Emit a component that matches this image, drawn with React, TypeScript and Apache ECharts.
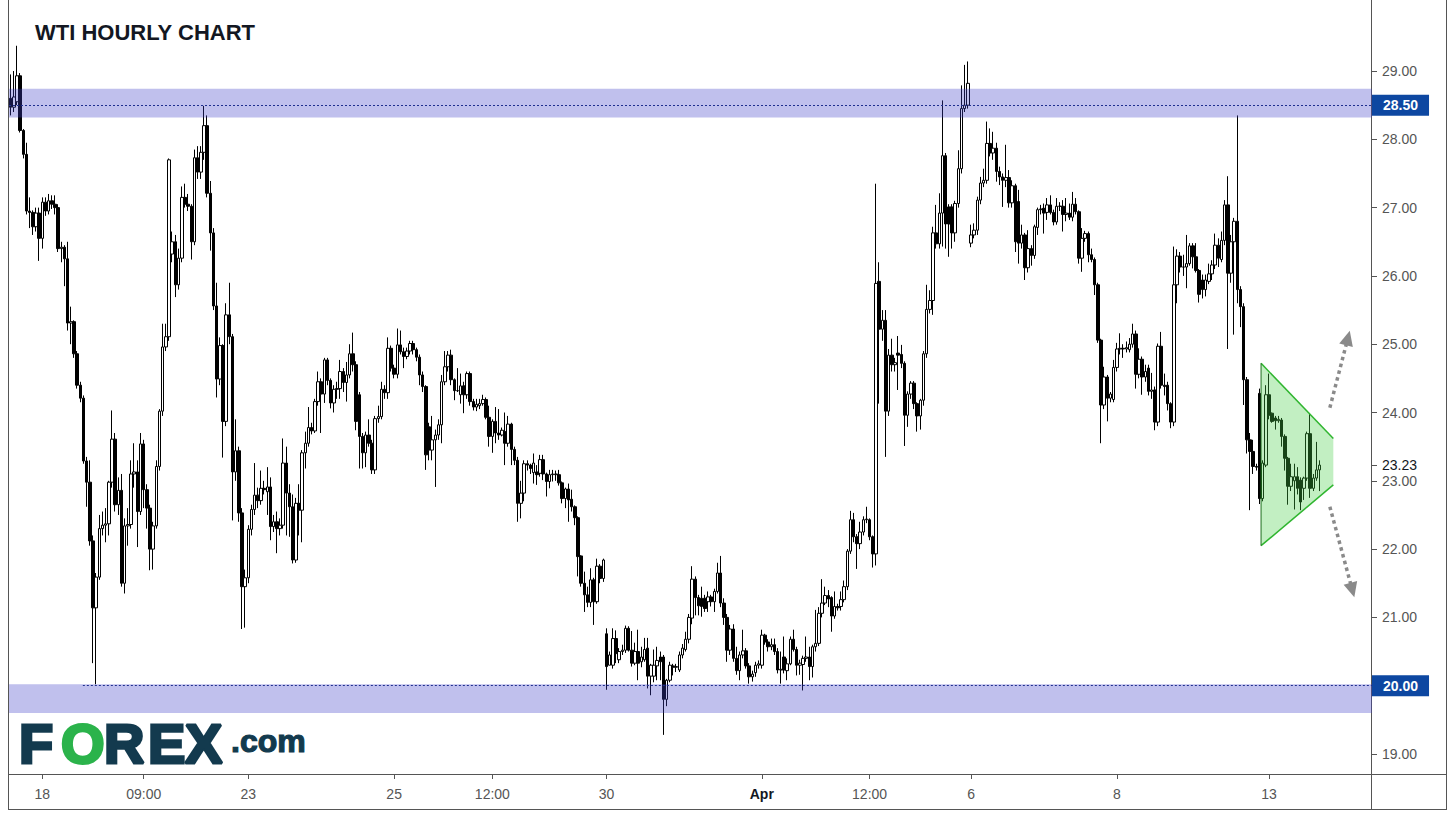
import React, { useEffect, useRef } from "react";
import * as echarts from "echarts";

// Hourly WTI candles, [open, close, low, high].
// Mar 17 evening - Mar 19
const block01 = [
  [28.60,28.47,28.35,28.95],[28.47,28.62,28.40,29.00],[28.55,28.93,28.50,29.37],[28.93,28.13,28.10,28.97],
  [28.13,27.78,27.72,28.15],[27.78,26.95,26.90,27.95],[26.95,26.93,26.70,27.15],[26.93,26.72,26.60,26.96],
  [26.72,26.92,26.65,27.00],[26.92,26.55,26.22,27.00],[26.55,27.08,26.40,27.15],[27.08,26.95,26.88,27.15],
  [26.95,27.10,26.90,27.20],[27.10,27.05,26.98,27.18],[27.05,27.00,26.90,27.18],[27.00,26.40,26.35,27.05],
  [26.40,26.42,26.20,26.50],[26.42,26.25,25.85,26.45],[26.25,25.31,25.20,26.50],[25.31,25.33,25.00,25.55],
  [25.33,24.86,24.80,25.35],[24.86,24.40,24.35,24.90],[24.40,24.21,24.15,24.45],[24.21,23.29,23.25,24.25],
  [23.29,22.98,22.62,23.35],[22.98,22.12,22.05,23.30],[22.12,21.14,20.33,22.20],[21.14,21.59,20.02,21.65],
  [21.59,22.30,21.55,22.50],[22.30,22.35,22.20,22.55],[22.35,22.37,22.10,22.60],[22.37,22.98,22.20,23.00],
  [22.98,23.61,22.90,24.03],[23.61,22.65,22.55,23.70],[22.65,22.86,22.50,23.05],[22.86,21.50,21.45,23.10],
  [21.50,22.34,21.35,22.45],[22.34,22.36,22.05,22.60],[22.36,23.10,22.30,23.30],[23.10,23.13,22.90,23.55],
  [23.13,22.55,22.03,23.30],
];
// Mar 19 - Mar 22
const block02 = [
  [22.55,23.54,22.50,23.70],[23.54,22.87,22.60,23.60],[22.87,22.60,22.30,22.95],[22.60,22.00,21.69,22.65],
  [22.00,22.34,21.70,22.40],[22.34,23.21,22.30,23.30],[23.21,24.02,23.15,24.05],[24.02,24.96,23.95,25.30],
  [24.96,25.11,24.90,25.30],[25.11,27.70,25.05,27.72],[26.32,26.50,26.20,26.65],[26.50,25.87,25.69,26.60],
  [25.87,26.26,25.80,26.40],[26.26,27.15,26.20,27.31],[27.15,27.05,27.00,27.35],[27.05,27.02,26.95,27.20],
  [27.02,26.50,26.24,27.05],[26.50,27.73,26.45,27.85],[27.73,27.52,27.42,27.90],[27.52,27.81,27.42,27.90],
  [27.81,28.20,27.70,28.49],[28.20,27.21,27.15,28.35],[27.21,26.63,26.37,27.39],[26.63,25.56,25.50,26.70],
  [25.56,24.49,24.22,25.90],[24.49,24.98,24.40,25.10],[24.98,23.87,23.34,25.00],[23.87,25.43,23.80,25.60],
  [25.43,25.11,25.00,25.90],[25.11,23.13,22.42,25.15],[23.13,23.44,23.00,23.90],[23.44,22.53,22.40,23.50],
  [22.53,21.45,20.83,22.60],[21.45,21.58,20.85,21.70],[21.58,22.29,21.50,22.35],[22.29,22.58,22.20,22.65],
  [22.58,22.79,22.50,23.26],[22.79,22.71,22.60,22.90],[22.71,22.89,22.65,23.15],[22.89,22.87,22.80,23.00],
  [22.84,22.91,22.50,23.20],
];
// Mar 23 - Mar 25
const block03 = [
  [22.91,22.33,22.13,23.05],[22.33,22.40,22.25,22.50],[22.40,22.30,21.94,22.55],[22.30,22.35,22.20,22.45],
  [22.35,23.26,22.30,23.62],[23.26,22.82,22.20,23.50],[22.82,22.62,22.18,22.95],[22.62,21.84,21.79,22.80],
  [21.84,22.67,21.80,22.75],[22.67,22.57,22.20,22.95],[22.57,23.41,22.10,23.45],[23.41,23.55,23.18,23.72],
  [23.55,23.78,23.50,24.08],[23.78,23.73,23.68,23.85],[23.73,24.16,23.70,24.20],[24.16,24.45,24.10,24.60],
  [24.45,24.27,23.70,24.50],[24.27,24.77,24.14,24.80],[24.77,24.47,24.40,24.80],[24.47,24.14,24.06,24.50],
  [24.14,24.34,24.00,24.40],[24.34,24.35,24.20,24.45],[24.35,24.60,24.20,24.77],[24.60,24.44,24.30,24.65],
  [24.44,24.55,24.16,24.74],[24.55,24.86,24.50,25.00],[24.86,24.70,24.60,25.17],[24.70,23.87,23.74,24.75],
  [24.26,23.65,23.18,24.30],[23.65,23.41,23.18,23.70],[23.41,23.67,23.20,23.72],[23.67,23.55,23.50,23.90],
  [23.55,23.16,23.10,23.60],[23.16,23.91,23.10,23.95],[23.91,23.94,23.85,24.10],[23.94,24.34,23.90,24.45],
  [24.34,24.29,24.20,24.40],[24.29,24.94,24.20,25.10],[24.94,24.65,24.60,24.98],[24.65,24.56,24.50,24.70],
  [24.56,24.99,24.50,25.23],
];
// Mar 25 - Mar 26
const block04 = [
  [24.99,24.89,24.85,25.20],[24.89,24.82,24.65,24.95],[24.82,24.90,24.78,24.95],[24.90,25.01,24.85,25.05],
  [25.01,24.92,24.85,25.05],[24.92,24.81,24.75,24.95],[24.81,24.55,24.40,24.85],[24.55,24.38,24.30,24.60],
  [24.38,23.38,23.16,24.40],[23.79,23.45,23.30,23.85],[23.45,23.60,23.30,23.95],[23.60,23.67,22.91,23.75],
  [23.67,23.82,23.60,23.90],[23.82,24.45,23.55,24.55],[24.45,24.67,24.40,24.90],[24.67,24.84,24.60,24.90],
  [24.84,24.48,24.40,24.92],[24.48,24.32,24.18,24.50],[24.32,24.32,24.30,24.65],[24.26,24.39,24.13,24.57],
  [24.39,24.26,23.99,24.45],[24.26,24.57,24.20,24.60],[24.57,24.16,24.10,24.60],[24.16,24.08,24.03,24.20],
  [24.08,24.12,24.02,24.20],[24.10,24.13,24.05,24.20],[24.13,24.19,24.10,24.26],[24.19,23.93,23.90,24.22],
  [23.93,23.65,23.50,24.10],[23.65,23.87,23.41,23.90],[23.87,23.70,23.55,24.08],[23.70,23.67,23.60,24.05],
  [23.67,23.74,23.65,23.78],[23.72,23.55,23.23,24.00],[23.55,23.83,23.50,23.95],[23.83,23.46,23.23,23.85],
  [23.46,23.30,23.23,23.50],[23.30,22.67,22.40,23.35],[22.67,22.82,22.45,23.00],[22.82,23.25,22.70,23.30],
];
// Mar 26 - Mar 27
const block05 = [
  [23.25,23.23,23.15,23.30],[23.23,23.18,23.10,23.25],[23.12,23.26,22.96,23.40],[23.13,23.09,22.94,23.23],
  [23.11,23.31,23.06,23.38],[23.31,23.10,23.01,23.38],[23.10,22.99,22.77,23.12],[22.99,23.09,22.89,23.16],
  [23.09,23.10,22.99,23.16],[23.09,23.10,23.00,23.15],[23.09,22.97,22.93,23.16],[22.97,22.74,22.67,22.99],
  [22.74,22.88,22.60,22.90],[22.88,22.72,22.40,22.96],[22.73,22.62,22.55,22.87],[22.62,22.46,22.35,22.64],
  [22.46,21.89,21.60,22.48],[21.90,21.50,21.45,21.91],[21.50,21.33,21.08,21.67],[21.33,21.22,21.15,21.45],
  [21.22,21.55,21.15,21.72],[21.55,21.23,20.89,21.58],[21.23,21.75,21.20,21.86],[21.75,21.57,21.50,21.78],
  [21.57,21.84,21.52,21.86],
];
// Mar 30 - Apr 1
const block06 = [
  [20.76,20.28,19.94,20.84],[20.30,20.45,20.30,20.50],[20.30,20.69,20.25,20.84],[20.69,20.47,20.33,20.81],
  [20.38,20.50,20.33,20.55],[20.50,20.52,20.45,20.60],[20.52,20.84,20.48,20.88],[20.84,20.52,20.50,20.87],
  [20.52,20.33,20.28,20.80],[20.33,20.50,20.30,20.63],[20.50,20.33,20.08,20.82],[20.35,20.42,20.27,20.57],
  [20.38,20.53,20.35,20.70],[20.55,20.14,19.96,20.70],[20.14,20.30,19.86,20.32],[20.14,20.30,20.05,20.53],
  [20.29,20.37,20.08,20.57],[20.42,20.35,20.08,20.50],[20.42,19.80,19.28,20.45],[19.80,20.08,19.70,20.10],
  [20.08,20.30,20.05,20.35],[20.29,20.27,20.15,20.32],[20.27,20.28,20.20,20.32],[20.23,20.45,20.20,20.50],
  [20.45,20.55,20.40,20.61],[20.53,20.68,20.50,20.79],[20.68,21.00,20.62,21.05],[20.99,21.56,20.90,21.75],
  [21.56,21.29,21.03,21.60],[21.29,21.17,21.03,21.33],[21.28,21.16,21.01,21.45],[21.28,21.13,21.08,21.33],
  [21.23,21.30,21.08,21.38],[21.30,21.23,21.16,21.33],[21.23,21.38,21.08,21.42],[21.38,21.65,21.35,21.80],
  [21.65,21.21,21.15,21.90],[21.21,21.00,20.89,21.28],[21.00,20.52,20.35,21.05],[20.52,20.83,20.45,20.89],
  [20.83,20.40,20.35,20.90],[20.40,20.22,20.16,20.57],[20.22,20.45,20.08,20.50],[20.45,20.51,20.40,20.82],
  [20.51,20.29,20.25,20.55],[20.29,20.13,20.03,20.33],[20.13,20.17,20.06,20.22],[20.19,20.30,20.13,20.35],
  [20.30,20.32,20.25,20.37],[20.30,20.74,20.25,20.82],[20.74,20.64,20.60,20.76],[20.64,20.57,20.50,20.68],
  [20.57,20.60,20.52,20.69],[20.60,20.50,20.45,20.69],[20.50,20.23,20.18,20.55],[20.23,20.24,20.03,20.50],
  [20.42,20.23,20.18,20.72],[20.22,20.32,20.08,20.40],
];
// Apr 1 - Apr 2
const block07 = [
  [20.32,20.68,20.30,20.72],[20.68,20.53,20.50,20.82],[20.53,20.30,20.15,20.57],[20.30,20.33,20.16,20.38],
  [20.31,20.40,19.93,20.44],[20.40,20.42,20.35,20.72],[20.42,20.28,20.08,20.57],[20.28,20.57,20.12,20.60],
  [20.57,20.62,20.50,21.11],[20.62,21.06,20.58,21.15],[21.06,21.21,21.00,21.56],[21.21,21.32,21.18,21.45],
  [21.32,21.27,21.15,21.40],[21.29,21.02,20.79,21.31],[21.02,21.16,20.98,21.38],[21.16,21.14,21.10,21.20],
  [21.16,21.26,21.10,21.38],[21.26,21.45,21.22,21.54],[21.45,21.97,21.40,22.00],[21.97,22.43,21.93,22.56],
  [22.43,22.18,22.10,22.53],[22.18,22.08,21.71,22.22],[22.08,22.25,22.00,22.40],[22.25,22.43,22.20,22.48],
  [22.43,22.44,22.38,22.62],[22.43,22.18,22.13,22.45],[22.18,21.93,21.73,22.20],[21.93,25.89,21.76,27.35],
  [25.92,25.22,24.13,26.20],[25.22,25.35,25.05,25.50],[25.35,24.02,23.35,25.50],[24.02,24.84,23.95,24.93],
  [24.84,24.70,24.60,25.08],[24.70,24.73,24.60,24.80],[24.87,24.84,24.33,25.12],[24.85,24.72,24.65,24.99],
  [24.72,23.96,23.51,24.75],[23.96,24.27,23.79,24.31],[24.27,24.43,24.20,24.46],[24.43,24.13,24.05,24.46],
];
// Apr 2 - Apr 7
const block08 = [
  [24.13,23.95,23.72,24.15],[23.95,24.18,23.75,24.20],[24.18,24.86,24.10,24.90],[24.86,25.51,24.80,25.87],
  [25.51,25.64,25.45,25.79],[25.64,26.63,25.43,26.72],[26.63,26.47,26.40,27.04],[26.47,26.92,26.40,27.21],
  [26.92,27.76,26.43,28.57],[27.76,26.76,26.40,27.80],[27.01,26.76,26.28,27.05],[27.01,26.63,26.40,27.05],
  [26.63,27.06,26.50,27.10],[27.06,27.57,27.00,27.84],[27.57,28.45,27.50,28.79],[28.45,28.50,28.40,29.09],
  [28.50,28.82,28.45,29.14],[26.48,26.60,26.42,26.75],[26.60,26.67,26.55,26.77],[26.67,27.11,26.60,27.16],
  [27.11,27.36,27.05,27.45],[27.36,27.40,27.30,27.57],[27.40,27.94,27.35,28.26],[27.94,27.80,27.75,28.16],
  [27.80,27.87,27.70,28.11],[27.87,27.53,27.38,27.95],[27.53,27.45,27.33,27.60],[27.45,27.40,27.01,27.50],
  [27.40,27.44,27.30,27.92],[27.44,27.07,27.00,27.55],[27.07,27.32,27.00,27.40],[27.32,26.50,26.35,27.35],
  [27.09,26.48,26.18,27.26],[26.48,26.60,26.40,26.75],[26.60,26.12,25.94,26.63],[26.12,26.40,26.05,26.67],
  [26.40,26.30,26.15,26.45],[26.30,26.72,26.25,26.75],[26.71,26.97,26.60,27.00],[26.97,26.98,26.90,27.04],
  [26.99,26.92,26.62,27.06],
];
// Apr 7 - Apr 9
const block09 = [
  [26.93,27.04,26.82,27.14],[27.04,26.93,26.90,27.18],[26.93,26.79,26.74,26.97],[26.79,27.02,26.75,27.14],
  [27.02,27.02,26.95,27.08],[27.02,26.90,26.65,27.11],[26.90,26.92,26.80,27.14],[26.92,26.86,26.82,27.06],
  [26.86,27.05,26.80,27.23],[27.05,26.94,26.90,27.14],[26.94,26.26,26.18,26.96],[26.26,26.55,26.06,26.70],
  [26.55,26.62,26.50,26.66],[26.62,26.31,26.20,26.65],[26.31,26.24,26.20,26.40],[26.24,25.87,25.72,26.27],
  [25.87,25.06,25.02,25.90],[25.06,24.11,23.55,25.08],[24.11,24.52,24.05,24.67],[24.52,24.21,23.87,24.55],
  [24.21,24.27,24.15,24.30],[24.19,24.66,24.15,24.77],[24.66,24.93,24.60,25.02],[24.93,24.94,24.85,25.16],
  [24.94,24.93,24.80,25.00],[24.93,24.95,24.88,25.04],[24.92,25.00,24.88,25.09],[25.00,25.15,24.95,25.30],
  [25.15,24.56,24.35,25.20],[24.56,24.78,24.50,24.94],[24.78,24.52,24.26,24.82],[24.52,24.60,24.45,24.70],
  [24.65,24.31,24.25,24.70],[24.31,24.33,24.20,24.58],[24.33,23.86,23.74,24.38],[23.86,24.97,23.80,25.01],
  [24.97,24.40,24.35,25.18],[24.40,24.38,24.25,24.57],[24.40,24.13,24.03,24.45],[24.13,23.86,23.77,24.15],
  [23.86,25.87,23.80,26.43],[25.87,26.29,25.60,26.39],
];
// Apr 9 - Apr 13
const block10 = [
  [26.29,26.13,26.05,26.35],[26.13,26.13,26.00,26.31],[26.13,26.18,25.82,26.60],[26.18,26.44,26.15,26.48],
  [26.44,26.28,26.11,26.48],[26.28,26.08,26.05,26.48],[26.08,25.73,25.61,26.10],[25.94,25.80,25.67,26.02],
  [25.80,25.94,25.70,26.02],[25.92,26.03,25.88,26.18],[26.03,26.16,25.94,26.23],[26.16,26.45,26.10,26.62],
  [26.45,26.26,26.13,26.55],[26.24,26.52,26.20,26.65],[26.52,27.04,26.45,27.11],[27.04,26.04,24.93,27.46],
  [26.04,26.50,25.90,26.60],[26.50,26.80,25.14,26.85],[26.80,25.80,25.60,28.35],[25.80,25.55,25.25,25.85],
  [25.55,24.48,24.11,25.60],[24.48,23.60,23.40,24.52],[23.60,23.43,22.57,23.70],[23.43,23.21,23.10,23.60],
  [23.21,23.20,23.15,23.25],[24.28,22.74,22.66,24.35],[22.74,23.26,22.70,23.30],[23.23,24.26,23.20,24.40],
  [24.26,23.96,23.90,24.57],[23.99,23.87,23.85,24.00],[23.92,23.88,23.75,23.95],[23.88,23.90,23.85,23.95],
  [23.89,23.65,23.50,23.92],[23.65,23.33,23.15,23.68],[23.33,22.92,22.65,23.35],[22.92,23.06,22.85,23.25],
  [23.00,23.06,22.58,23.25],[23.06,22.89,22.80,23.20],[23.01,22.69,22.57,23.05],[22.89,23.04,22.72,23.06],
  [23.04,23.69,23.00,23.72],[23.69,22.89,22.75,23.99],[22.89,23.04,22.85,23.10],[23.04,23.16,23.00,23.57],
  [23.16,23.23,22.85,23.30],
];

const candles = [
  ...block01, ...block02, ...block03, ...block04, ...block05,
  ...block06, ...block07, ...block08, ...block09, ...block10,
];

// Category slots (candles plus empty space on the right)
const TOTAL_SLOTS = 430;
const dateTickIndex = [10, 42, 75, 121, 152, 188, 237, 271, 303, 349, 397];
const dateTickText = ["18", "09:00", "23", "25", "12:00", "30", "Apr", "12:00", "6", "8", "13"];
const priceTicks = [19, 21, 22, 23, 24, 25, 26, 27, 28, 29];
const lastPrice = 23.23;
const resistanceLevel = 28.5;
const supportLevel = 20.0;
const resistanceZone = [28.32, 28.74];
const supportZone = [19.6, 20.02];
const supportLineStart = 22.8;
const triangleUpper = [[394.5, 24.72], [417.3, 23.62]];
const triangleLower = [[394.5, 22.05], [417.3, 22.94]];
const breakoutUp = [[416.2, 24.07], [421.9, 25.09]];
const breakoutDown = [[416.2, 22.62], [423.3, 21.4]];
const priceMin = 18.707;
const priceMax = 30.04;

const FONT = '"Liberation Sans", Arial, sans-serif';
const AXIS_GREY = "#555555";
const NAVY_BOX = "#0d47a1";
const LOGO_NAVY = "#133a4e";
const LOGO_GREEN = "#2bb34b";

function buildOption() {
  const categories = Array.from({ length: TOTAL_SLOTS }, (_, i) => String(i));
  const dateLabels = new Map<number, string>(dateTickIndex.map((idx, k) => [idx, dateTickText[k]]));
  const isDateTick = (index: number) => dateLabels.has(index);
  const yAxisValues = [...priceTicks, lastPrice];

  const levelLabel = (text: string) => ({
    show: true,
    position: "end",
    distance: 0,
    formatter: text,
    color: "#ffffff",
    backgroundColor: NAVY_BOX,
    padding: [4, 11, 3, 11],
    fontSize: 14,
    fontWeight: "bold",
    fontFamily: FONT,
  });
  const levelLine = { color: "#1f2f8f", type: [2, 2], width: 1 };
  const arrowLine = { color: "#8a8a8a", type: [3.5, 3.5], width: 3.5 };

  const frame = (x1: number, y1: number, x2: number, y2: number) => ({
    type: "line",
    silent: true,
    z: 1,
    shape: { x1, y1, x2, y2 },
    style: { stroke: AXIS_GREY, lineWidth: 1 },
  });

  const logoLetter = (text: string, x: number, color: string) => ({
    type: "text",
    silent: true,
    z: 10,
    x,
    y: 715,
    style: {
      text,
      fill: color,
      stroke: color,
      lineWidth: 3,
      font: `bold 56px ${FONT}`,
    },
  });

  return {
    animation: false,
    backgroundColor: "#ffffff",
    textStyle: { fontFamily: FONT },
    grid: { left: 9, right: 83, top: 0, bottom: 45, containLabel: false },
    xAxis: [
      {
        type: "category",
        data: categories,
        boundaryGap: true,
        axisLine: { show: false, onZero: false },
        axisTick: {
          show: true,
          alignWithLabel: true,
          interval: (i: number) => isDateTick(i),
          length: 5,
          lineStyle: { color: AXIS_GREY, width: 1 },
        },
        axisLabel: {
          interval: (i: number) => isDateTick(i),
          formatter: (v: string) => {
            const t = dateLabels.get(Number(v)) || "";
            return t === "Apr" ? "{b|Apr}" : t;
          },
          color: AXIS_GREY,
          fontSize: 14,
          fontFamily: FONT,
          margin: 13,
          rich: { b: { fontWeight: "bold", color: "#131722", fontSize: 14, fontFamily: FONT } },
        },
        splitLine: { show: false },
      },
      { type: "value", min: -0.5, max: TOTAL_SLOTS - 0.5, show: false, axisLine: { onZero: false } },
    ],
    yAxis: {
      type: "value",
      position: "right",
      min: priceMin,
      max: priceMax,
      axisLine: { show: false, onZero: false },
      axisTick: { show: true, customValues: yAxisValues, length: 5, lineStyle: { color: AXIS_GREY } },
      axisLabel: {
        customValues: yAxisValues,
        margin: 10,
        color: AXIS_GREY,
        fontSize: 14,
        fontFamily: FONT,
        formatter: (v: number) =>
          Math.abs(v - lastPrice) < 1e-6 ? `{cur|${v.toFixed(2)}}` : v.toFixed(2),
        rich: { cur: { color: "#131722", fontSize: 14, fontFamily: FONT } },
      },
      splitLine: { show: false },
    },
    series: [
      {
        type: "candlestick",
        name: "WTI",
        xAxisIndex: 0,
        yAxisIndex: 0,
        data: candles,
        barWidth: 3,
        z: 2,
        silent: true,
        itemStyle: {
          color: "#ffffff",
          color0: "#000000",
          borderColor: "#000000",
          borderColor0: "#000000",
          borderWidth: 1,
        },
      },
      {
        type: "line",
        name: "levels",
        xAxisIndex: 1,
        yAxisIndex: 0,
        data: [],
        z: 3,
        silent: true,
        markArea: {
          silent: true,
          z: 3,
          label: { show: false },
          itemStyle: { color: "rgba(64,64,200,0.33)" },
          data: [
            [{ yAxis: resistanceZone[0] }, { yAxis: resistanceZone[1] }],
            [{ yAxis: supportZone[0] }, { yAxis: supportZone[1] }],
          ],
        },
        markLine: {
          silent: true,
          z: 5,
          symbol: ["none", "none"],
          data: [
            [
              { coord: [-0.5, resistanceLevel], lineStyle: levelLine, label: levelLabel(resistanceLevel.toFixed(2)) },
              { coord: [TOTAL_SLOTS - 0.5, resistanceLevel] },
            ],
            [
              { coord: [supportLineStart, supportLevel], lineStyle: levelLine, label: levelLabel(supportLevel.toFixed(2)) },
              { coord: [TOTAL_SLOTS - 0.5, supportLevel] },
            ],
            [
              { coord: breakoutUp[0], symbol: "none", lineStyle: arrowLine, label: { show: false } },
              { coord: breakoutUp[1], symbol: "triangle", symbolSize: [14, 15] },
            ],
            [
              { coord: breakoutDown[0], symbol: "none", lineStyle: arrowLine, label: { show: false } },
              { coord: breakoutDown[1], symbol: "triangle", symbolSize: [14, 15] },
            ],
          ],
        },
      },
      {
        type: "custom",
        name: "triangle",
        xAxisIndex: 1,
        yAxisIndex: 0,
        z: 4,
        silent: true,
        data: [triangleUpper[0]],
        renderItem: (_params: any, api: any) => {
          const tl = api.coord(triangleUpper[0]);
          const tr = api.coord(triangleUpper[1]);
          const bl = api.coord(triangleLower[0]);
          const br = api.coord(triangleLower[1]);
          return {
            type: "group",
            children: [
              { type: "polygon", shape: { points: [tl, tr, br, bl] }, style: { fill: "rgba(70,205,70,0.33)" } },
              { type: "line", shape: { x1: tl[0], y1: tl[1], x2: tr[0], y2: tr[1] }, style: { stroke: "#2fb52f", lineWidth: 1.5 } },
              { type: "line", shape: { x1: bl[0], y1: bl[1], x2: br[0], y2: br[1] }, style: { stroke: "#2fb52f", lineWidth: 1.5 } },
              { type: "line", shape: { x1: tl[0], y1: tl[1], x2: bl[0], y2: bl[1] }, style: { stroke: "#1e6e1e", lineWidth: 1 } },
            ],
          };
        },
      },
    ],
    graphic: [
      frame(8.5, 0, 8.5, 810),
      frame(1446.5, 0, 1446.5, 810),
      frame(8, 809.5, 1447, 809.5),
      frame(8, 774.5, 1447, 774.5),
      frame(1371.5, 0, 1371.5, 810),
      {
        type: "text",
        silent: true,
        z: 10,
        x: 35,
        y: 21,
        style: { text: "WTI HOURLY CHART", fill: "#131722", font: `bold 22px ${FONT}` },
      },
      logoLetter("F", 19, LOGO_NAVY),
      logoLetter("O", 61, LOGO_GREEN),
      logoLetter("R", 104, LOGO_NAVY),
      logoLetter("E", 148, LOGO_NAVY),
      logoLetter("X", 185, LOGO_NAVY),
      {
        type: "text",
        silent: true,
        z: 10,
        x: 231,
        y: 725,
        style: { text: ".com", fill: LOGO_NAVY, stroke: LOGO_NAVY, lineWidth: 1.2, font: `bold 32px ${FONT}` },
      },
    ],
  };
}

export default function App() {
  const ref = useRef<HTMLDivElement>(null);
  useEffect(() => {
    if (!ref.current) return;
    const chart = echarts.init(ref.current, null, { renderer: "svg" });
    chart.setOption(buildOption() as any);
    return () => {
      chart.dispose();
    };
  }, []);
  return (
    <div
      ref={ref}
      style={{ position: "fixed", left: 0, top: 0, width: 1455, height: 819, background: "#ffffff" }}
    />
  );
}
